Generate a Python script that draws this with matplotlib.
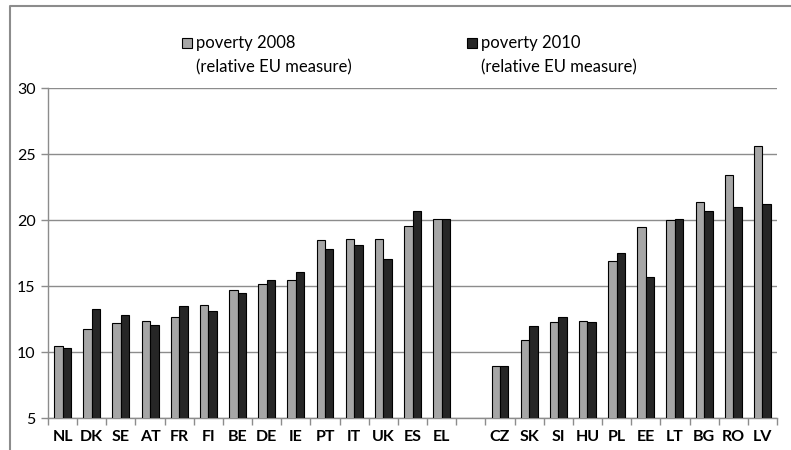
import numpy as np
import matplotlib
matplotlib.use("Agg")
import matplotlib.pyplot as plt
from matplotlib.patches import Rectangle
from matplotlib.lines import Line2D

plt.rcParams['font.family'] = ['Lato', 'DejaVu Sans']

# countries, '' marks the gap between the two groups
countries = ['NL', 'DK', 'SE', 'AT', 'FR', 'FI', 'BE', 'DE', 'IE', 'PT', 'IT', 'UK', 'ES', 'EL',
             '',
             'CZ', 'SK', 'SI', 'HU', 'PL', 'EE', 'LT', 'BG', 'RO', 'LV']
pov_2008 = [10.5, 11.8, 12.2, 12.4, 12.7, 13.6, 14.7, 15.2, 15.5, 18.5, 18.6, 18.6, 19.6, 20.1,
            np.nan,
            9.0, 10.9, 12.3, 12.4, 16.9, 19.5, 20.0, 21.4, 23.4, 25.6]
pov_2010 = [10.3, 13.3, 12.8, 12.1, 13.5, 13.1, 14.5, 15.5, 16.1, 17.8, 18.1, 17.1, 20.7, 20.1,
            np.nan,
            9.0, 12.0, 12.7, 12.3, 17.5, 15.7, 20.1, 20.7, 21.0, 21.2]
series_names = ['poverty 2008\n(relative EU measure)', 'poverty 2010\n(relative EU measure)']
series_colors = ['#a6a6a6', '#262626']
yticks = [5, 10, 15, 20, 25, 30]

fig = plt.figure(figsize=(7.91, 4.5), dpi=100)
ax = fig.add_axes([48/791, 1-418.3/450, (777-48)/791, (418.3-88.3)/450])

x = np.arange(len(countries))
w = 0.29
ax.bar(x - w/2, pov_2008, w, color=series_colors[0], edgecolor='black', linewidth=0.8, zorder=3)
ax.bar(x + w/2, pov_2010, w, color=series_colors[1], edgecolor='black', linewidth=0.8, zorder=3)

ax.set_ylim(5, 30)
ax.set_xlim(-0.5, len(countries) - 0.5)
ax.set_yticks(yticks)
ax.yaxis.grid(True, color='#8c8c8c', linewidth=1, zorder=0)
ax.tick_params(axis='y', length=5, width=1, color='#8c8c8c', pad=4, labelsize=11.5)

ax.set_xticks(np.arange(len(countries) + 1) - 0.5)
ax.set_xticklabels([])
ax.set_xticks(x, minor=True)
ax.set_xticklabels(countries, minor=True, fontweight='bold', fontsize=11.5)
ax.tick_params(axis='x', which='major', length=5, width=1, color='#8c8c8c')
ax.tick_params(axis='x', which='minor', length=0, pad=8.5)

for s in ['top', 'right']:
    ax.spines[s].set_visible(False)
for s in ['left', 'bottom']:
    ax.spines[s].set_color('#8c8c8c')
    ax.spines[s].set_linewidth(1)

# legend drawn by hand so the swatch sits on the first text line
leg_x = [182/791, 467/791]
for lx, name, col in zip(leg_x, series_names, series_colors):
    fig.patches.append(Rectangle((lx, 1-48/450), 10/791, 10/450, transform=fig.transFigure,
                                 facecolor=col, edgecolor='black', linewidth=0.8))
    fig.text(lx + 14/791, 1-35/450, name, va='top', ha='left', fontsize=12, linespacing=1.65)

# outer chart frame (left and top edges visible)
fig.lines.append(Line2D([10/791, 10/791, 1], [0, 1-6/450, 1-6/450], transform=fig.transFigure,
                        color='#8c8c8c', linewidth=1.5))

fig.savefig('out.png', dpi=100)
